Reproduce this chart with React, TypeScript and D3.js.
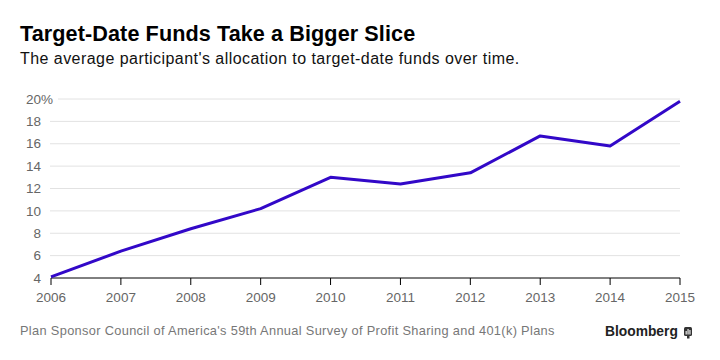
import React from "react";
import * as d3 from "d3";

const years = [2006, 2007, 2008, 2009, 2010, 2011, 2012, 2013, 2014, 2015];
const allocation = [4.1, 6.4, 8.4, 10.2, 13.0, 12.4, 13.4, 16.7, 15.8, 19.8];
const yTicks = [4, 6, 8, 10, 12, 14, 16, 18, 20];

const title = "Target-Date Funds Take a Bigger Slice";
const subtitle = "The average participant's allocation to target-date funds over time.";
const source =
  "Plan Sponsor Council of America's 59th Annual Survey of Profit Sharing and 401(k) Plans";

const W = 720;
const H = 360;
const font = "'Liberation Sans', Arial, Helvetica, sans-serif";

const App: React.FC = () => {
  const x = d3.scaleLinear().domain([2006, 2015]).range([51, 680]);
  const y = d3.scaleLinear().domain([4, 20]).range([278, 99]);

  const line = d3
    .line<number>()
    .x((_, i) => x(years[i]))
    .y((d) => y(d));

  return (
    <svg
      width={W}
      height={H}
      style={{ position: "absolute", left: 0, top: 0, background: "#fff" }}
      fontFamily={font}
    >
      <text x={20} y={41} fontSize={21.6} fontWeight="bold" letterSpacing={0.1} fill="#000">
        {title}
      </text>
      <text x={20} y={64} fontSize={16} letterSpacing={0.45} fill="#111">
        {subtitle}
      </text>

      {/* gridlines + y labels */}
      <g>
        {yTicks.map((t) => (
          <g key={t}>
            {t !== 4 && (
              <line
                x1={t === 20 ? 58 : 50}
                x2={680}
                y1={y(t)}
                y2={y(t)}
                stroke="#e2e2e2"
                strokeWidth={1}
              />
            )}
            <text
              x={41}
              y={y(t)}
              dy="0.35em"
              textAnchor="end"
              fontSize={13.5}
              fill="#666"
            >
              {t}
            </text>
            {t === 20 && (
              <text x={41} y={y(t)} dy="0.35em" fontSize={13.5} fill="#666">
                %
              </text>
            )}
          </g>
        ))}
      </g>

      {/* x axis */}
      <line x1={x(2006)} x2={x(2015)} y1={y(4)} y2={y(4)} stroke="#000" strokeWidth={1} />
      {years.map((yr) => (
        <g key={yr}>
          <line
            x1={x(yr)}
            x2={x(yr)}
            y1={y(4)}
            y2={y(4) + 7}
            stroke="#000"
            strokeWidth={1}
          />
          <text x={x(yr)} y={302} textAnchor="middle" fontSize={13.5} fill="#666">
            {yr}
          </text>
        </g>
      ))}

      <path
        d={line(allocation) || ""}
        fill="none"
        stroke="#3208c8"
        strokeWidth={3}
        strokeLinejoin="round"
      />

      <text x={20} y={335} fontSize={12.8} letterSpacing={0.33} fill="#777">
        {source}
      </text>

      <text x={605} y={336} fontSize={13.8} fontWeight="bold" fill="#222">
        Bloomberg
      </text>
      <g transform="translate(684,327)">
        <rect x={0} y={0} width={8} height={9} rx={1.5} fill="#333" />
        <rect x={1.6} y={4} width={1.1} height={3.5} fill="#fff" />
        <rect x={3.5} y={2} width={1.1} height={5.5} fill="#fff" />
        <rect x={5.4} y={3} width={1.1} height={4.5} fill="#fff" />
        <rect x={3} y={9} width={2.5} height={2.5} fill="#333" />
      </g>
    </svg>
  );
};

export default App;
